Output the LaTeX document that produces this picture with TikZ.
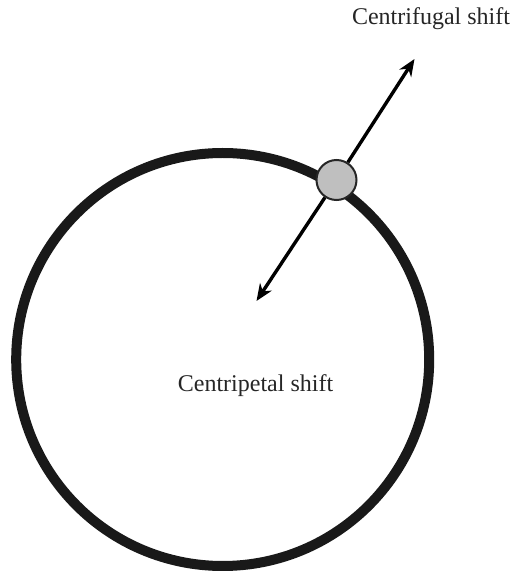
\documentclass[tikz,border=0pt]{standalone}
\usepackage{fontspec}
\setmainfont{Liberation Serif}
\usetikzlibrary{arrows.meta,positioning}

\begin{document}
\begin{tikzpicture}[x=1pt, y=1pt,
  orbit/.style={draw=black!90, line width=10pt},
  ball/.style={circle, draw=black!85, line width=2pt, fill=black!25!gray!40,
               minimum size=40pt, inner sep=0pt},
  lbl/.style={font=\fontsize{24}{27}\selectfont, text=black!85, anchor=base},
  shiftarrow/.style={line width=3.4pt, -{Stealth[length=17pt, width=14pt]}}]
  \useasboundingbox (0,0) rectangle (514,571);
  % orbit
  \node[orbit, circle, minimum size=413pt, inner sep=0pt] (ring) at (222.7,211.5) {};
  % shift directions
  \coordinate (outer) at (414.5,512);
  \coordinate (inner) at (256.5,270);
  \node[ball] (cell) at (336.5,391) {};
  \draw[shiftarrow] (cell) -- (outer);
  \draw[shiftarrow] (cell) -- (inner);
  \node[lbl] (fugal) at (431,546) {Centrifugal shift};
  \node[lbl] (petal) at (255.5,179) {Centripetal shift};
\end{tikzpicture}
\end{document}
